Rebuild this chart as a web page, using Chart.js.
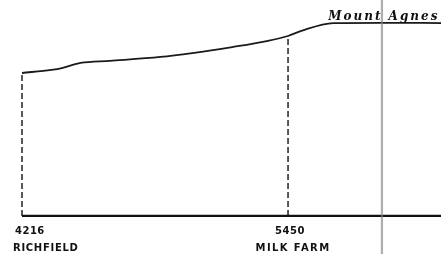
<!DOCTYPE html>
<html><head><meta charset="utf-8">
<script src="https://cdn.jsdelivr.net/npm/chart.js@4"></script>
<style>html,body{margin:0;padding:0;background:#fff}canvas{display:block}</style>
</head><body>
<canvas id="c" width="441" height="254"></canvas>
<script>
// Profile: distance (miles, estimated) and elevation (feet, estimated)
const distances = [0, 1.1, 1.5, 2.2, 3.3, 5.2, 6.4, 7.9, 9.2, 10, 10.5, 11.7, 13.5, 15.8];
const elevations = [4216, 4320, 4380, 4550, 4620, 4750, 4880, 5080, 5280, 5450, 5620, 5880, 5890, 5880];
// Stations
const stationNames = ['RICHFIELD', 'MILK FARM'];
const stationDistances = [0, 10];
const stationElevations = [4216, 5450];
const summitName = 'Mount Agnes';
const summitDistance = 13.6;
const summitElevation = 5890;
const datumElevation = -550;
const foldDistance = 13.53;

const profile = distances.map((d, i) => ({x: d, y: elevations[i]}));
const datum = [{x: stationDistances[0], y: datumElevation}, {x: 16, y: datumElevation}];
const dashedSets = stationDistances.map((d, i) => ({
  data: [{x: d, y: datumElevation}, {x: d, y: stationElevations[i]}],
  borderColor: '#222', borderWidth: 1.5, borderDash: [6, 3], pointRadius: 0, showLine: true
}));

const labelPlugin = {
  id: 'labels',
  afterDatasetsDraw(chart) {
    const ctx = chart.ctx, xs = chart.scales.x, ys = chart.scales.y;
    ctx.save();
    ctx.fillStyle = '#111';
    ctx.textBaseline = 'middle';
    const yb = ys.getPixelForValue(datumElevation);
    // Richfield (left aligned)
    const x0 = xs.getPixelForValue(stationDistances[0]);
    ctx.font = 'bold 10px "DejaVu Sans"';
    ctx.textAlign = 'left';
    ctx.letterSpacing = '0.5px';
    ctx.fillText(String(stationElevations[0]), x0 - 7, yb + 15);
    ctx.letterSpacing = '0.7px';
    ctx.fillText(stationNames[0], x0 - 9, yb + 32);
    // Milk Farm (centered)
    const x1 = xs.getPixelForValue(stationDistances[1]);
    ctx.textAlign = 'center';
    ctx.letterSpacing = '0.5px';
    ctx.fillText(String(stationElevations[1]), x1 + 2, yb + 15);
    ctx.letterSpacing = '1.4px';
    ctx.fillText(stationNames[1], x1 + 5, yb + 32);
    // Summit
    const xs2 = xs.getPixelForValue(summitDistance);
    const ys2 = ys.getPixelForValue(summitElevation);
    ctx.font = 'italic bold 12px "DejaVu Serif"';
    ctx.textBaseline = 'alphabetic';
    ctx.textAlign = 'center';
    ctx.letterSpacing = '2px';
    ctx.fillText(summitName, xs2, ys2 - 3);
    ctx.restore();
  }
};

new Chart(document.getElementById('c'), {
  type: 'scatter',
  data: {
    datasets: [
      {data: [{x: foldDistance, y: -2000}, {x: foldDistance, y: 7000}], borderColor: 'rgba(130,130,130,0.65)', borderWidth: 2.2, pointRadius: 0, showLine: true},
      {data: profile, borderColor: '#1a1a1a', borderWidth: 1.8, pointRadius: 0, showLine: true, cubicInterpolationMode: 'monotone'},
      {data: datum, borderColor: '#111', borderWidth: 2.2, pointRadius: 0, showLine: true},
      ...dashedSets
    ]
  },
  options: {
    responsive: false, animation: false, devicePixelRatio: 1,
    layout: {padding: 0},
    plugins: {legend: {display: false}, tooltip: {enabled: false}},
    scales: {
      x: {type: 'linear', display: false, min: -0.827, max: 15.75},
      y: {type: 'linear', display: false, min: -1820, max: 6650}
    }
  },
  plugins: [labelPlugin]
});
</script>
</body></html>
